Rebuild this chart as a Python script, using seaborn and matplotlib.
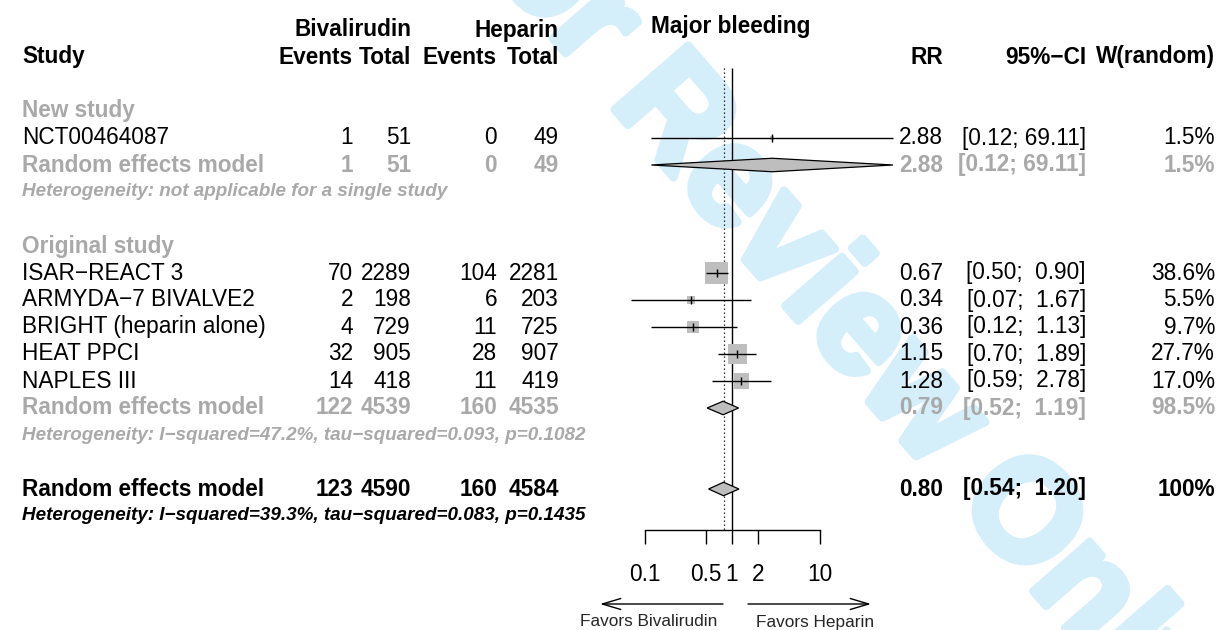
import matplotlib
matplotlib.use("Agg")
import matplotlib.pyplot as plt
import matplotlib.transforms as mtrans
import matplotlib.patheffects as pe
from matplotlib.ticker import NullLocator
import seaborn as sns

# ---------------- data ----------------
groups = ["New study", "Original study"]
study_group = [0, 1, 1, 1, 1, 1]
studies = ["NCT00464087", "ISAR\u2212REACT 3", "ARMYDA\u22127 BIVALVE2",
           "BRIGHT (heparin alone)", "HEAT PPCI", "NAPLES III"]
ev_biv = [1, 70, 2, 4, 32, 14]
n_biv = [51, 2289, 198, 729, 905, 418]
ev_hep = [0, 104, 6, 11, 28, 11]
n_hep = [49, 2281, 203, 725, 907, 419]
rr = [2.88, 0.67, 0.34, 0.36, 1.15, 1.28]
rr_lo = [0.12, 0.50, 0.07, 0.12, 0.70, 0.59]
rr_hi = [69.11, 0.90, 1.67, 1.13, 1.89, 2.78]
weight = [1.5, 38.6, 5.5, 9.7, 27.7, 17.0]

sub_ev_biv = [1, 122]
sub_n_biv = [51, 4539]
sub_ev_hep = [0, 160]
sub_n_hep = [49, 4535]
sub_rr = [2.88, 0.79]
sub_lo = [0.12, 0.52]
sub_hi = [69.11, 1.19]
sub_w = [1.5, 98.5]
sub_het = ["Heterogeneity: not applicable for a single study",
           "Heterogeneity: I\u2212squared=47.2%, tau\u2212squared=0.093, p=0.1082"]

ov_counts = [123, 4590, 160, 4584]
ov_rr, ov_lo, ov_hi = 0.80, 0.54, 1.20
ov_w_label = "100%"
ov_het = "Heterogeneity: I\u2212squared=39.3%, tau\u2212squared=0.083, p=0.1435"

tick_vals = [0.1, 0.5, 1, 2, 10]
tick_labels = ["0.1", "0.5", "1", "2", "10"]
title = "Major bleeding"
label_e, label_c = "Bivalirudin", "Heparin"
label_left, label_right = "Favors Bivalirudin", "Favors Heparin"
watermark = "For Review Only"

# ---------------- style ----------------
sns.set_theme(style="white")
plt.rcParams["font.family"] = ["Liberation Sans", "DejaVu Sans"]
plt.rcParams["axes.unicode_minus"] = True

W, H = 1219, 630
ROW0, ROWH = 57, 27          # pixel y of header row, row height
FS = 16.3
FS_HET = 13.6
GRAY = "#A9A9A9"
BOXGRAY = "#BEBEBE"
WM = "#D4EEFA"

fig = plt.figure(figsize=(W / 100, H / 100), dpi=100)

# watermark (behind everything)
fig.text(836 / W, 1 - 285 / H, watermark, rotation=-49, color=WM,
         fontsize=102, fontweight="bold", ha="center", va="center_baseline",
         rotation_mode="anchor", zorder=-5,
         path_effects=[pe.withStroke(linewidth=6, foreground=WM)])

ax_l, ax_r, ax_bot = 557, 907, 530
ax = fig.add_axes([ax_l / W, (H - ax_bot) / H, (ax_r - ax_l) / W, ax_bot / H])
ax.set_facecolor("none")
ax.set_xscale("log")
ax.set_xlim(0.01, 100)
ylo = (ax_bot - ROW0) / ROWH
yhi = (0 - ROW0) / ROWH
ax.set_ylim(ylo, yhi)

# ---------------- row layout ----------------
study_rows, sub_rows, het_rows, label_rows = [], [], [], []
r = 0
for g in range(len(groups)):
    r += 2
    label_rows.append(r)
    for i, sg in enumerate(study_group):
        if sg == g:
            r += 1
            study_rows.append(r)
    r += 1
    sub_rows.append(r)
    r += 1
    het_rows.append(r)
r += 2
ov_row = r
ov_het_row = r + 1

# ---------------- forest marks ----------------
sns.scatterplot(x=rr, y=study_rows, size=weight, sizes=(0, 274),
                size_norm=(0, max(weight)), marker="s", color=BOXGRAY,
                linewidth=0, legend=False, ax=ax, zorder=2)
ax.hlines(study_rows, rr_lo, rr_hi, color="black", lw=1.0, zorder=3)
ax.plot(rr, study_rows, ls="none", marker="|", ms=5.5, mew=1.0, color="black", zorder=4)

dh = 0.25
for est, lo, hi, row in list(zip(sub_rr, sub_lo, sub_hi, sub_rows)) + [(ov_rr, ov_lo, ov_hi, ov_row)]:
    ax.fill([lo, est, hi, est], [row, row - dh, row, row + dh],
            facecolor=BOXGRAY, edgecolor="black", lw=0.9, zorder=3)

ax.vlines(1, 0.4, ylo, color="black", lw=1.0, zorder=1)
ax.vlines(ov_rr, 0.4, ylo, color="black", lw=0.9, linestyles=(0, (1, 2.2)), zorder=1)

# axis
for s in ["top", "right", "left"]:
    ax.spines[s].set_visible(False)
ax.spines["bottom"].set_bounds(min(tick_vals), max(tick_vals))
ax.spines["bottom"].set_color("black")
ax.spines["bottom"].set_linewidth(1.0)
ax.set_xticks(tick_vals)
ax.set_xticklabels(tick_labels)
ax.xaxis.set_minor_locator(NullLocator())
ax.set_yticks([])
ax.tick_params(axis="x", direction="out", length=10, width=1.0, pad=14,
               labelsize=FS, colors="black", bottom=True)
ax.set_xlabel("")
ax.set_ylabel("")

# ---------------- text columns ----------------
tr = mtrans.blended_transform_factory(fig.transFigure, ax.transData)


def txt(px, row, s, ha="right", **kw):
    kw.setdefault("fontsize", FS)
    kw.setdefault("color", "black")
    ax.text(px / W, row, s, transform=tr, ha=ha, va="center", clip_on=False, **kw)


X_STUDY, X_EB, X_NB, X_EH, X_NH = 22, 353, 411, 497, 559
X_RR, X_CI, X_W = 943, 1086, 1215


def ci(lo, hi):
    return f"[{lo:.2f}; {hi:5.2f}]"


# headers
hdr_row = 0
txt(ax_l + 174, (27 - ROW0) / ROWH, title, ha="center", fontweight="bold")
txt(X_NB, -1, label_e, fontweight="bold")
txt(X_NH, -1, label_c, fontweight="bold")
txt(X_STUDY, hdr_row, "Study", ha="left", fontweight="bold")
for px, s in [(X_EB, "Events"), (X_NB, "Total"), (X_EH, "Events"), (X_NH, "Total"),
              (X_RR, "RR"), (X_CI, "95%\u2212CI"), (X_W, "W(random)")]:
    txt(px, hdr_row, s, fontweight="bold")

# studies
for i, row in enumerate(study_rows):
    txt(X_STUDY, row, studies[i], ha="left")
    txt(X_EB, row, str(ev_biv[i]))
    txt(X_NB, row, str(n_biv[i]))
    txt(X_EH, row, str(ev_hep[i]))
    txt(X_NH, row, str(n_hep[i]))
    txt(X_RR, row, f"{rr[i]:.2f}")
    txt(X_CI, row, ci(rr_lo[i], rr_hi[i]))
    txt(X_W, row, f"{weight[i]:.1f}%")

# subgroups
for g in range(len(groups)):
    txt(X_STUDY, label_rows[g], groups[g], ha="left", fontweight="bold", color=GRAY)
    row = sub_rows[g]
    kw = dict(fontweight="bold", color=GRAY)
    txt(X_STUDY, row, "Random effects model", ha="left", **kw)
    txt(X_EB, row, str(sub_ev_biv[g]), **kw)
    txt(X_NB, row, str(sub_n_biv[g]), **kw)
    txt(X_EH, row, str(sub_ev_hep[g]), **kw)
    txt(X_NH, row, str(sub_n_hep[g]), **kw)
    txt(X_RR, row, f"{sub_rr[g]:.2f}", **kw)
    txt(X_CI, row, ci(sub_lo[g], sub_hi[g]), **kw)
    txt(X_W, row, f"{sub_w[g]:.1f}%", **kw)
    txt(X_STUDY, het_rows[g], sub_het[g], ha="left", fontweight="bold",
        fontstyle="italic", color=GRAY, fontsize=FS_HET)

# overall
kw = dict(fontweight="bold")
txt(X_STUDY, ov_row, "Random effects model", ha="left", **kw)
for px, v in zip([X_EB, X_NB, X_EH, X_NH], ov_counts):
    txt(px, ov_row, str(v), **kw)
txt(X_RR, ov_row, f"{ov_rr:.2f}", **kw)
txt(X_CI, ov_row, ci(ov_lo, ov_hi), **kw)
txt(X_W, ov_row, ov_w_label, **kw)
txt(X_STUDY, ov_het_row, ov_het, ha="left", fontweight="bold", fontstyle="italic",
    fontsize=FS_HET)

# favours arrows and labels (figure-pixel layout)
pix = mtrans.Affine2D().scale(1 / W, 1 / H) + fig.transFigure
arrow_y = H - 604
ax.annotate("", xy=(600, arrow_y), xytext=(723, arrow_y), xycoords=pix, textcoords=pix,
            arrowprops=dict(arrowstyle="->,head_length=1.1,head_width=0.33", lw=1.0,
                            color="black", shrinkA=0, shrinkB=0), annotation_clip=False)
ax.annotate("", xy=(871, arrow_y), xytext=(748, arrow_y), xycoords=pix, textcoords=pix,
            arrowprops=dict(arrowstyle="->,head_length=1.1,head_width=0.33", lw=1.0,
                            color="black", shrinkA=0, shrinkB=0), annotation_clip=False)
fig.text(649 / W, 1 - 622 / H, label_left, ha="center", va="center", fontsize=12.4)
fig.text(815 / W, 1 - 622 / H, label_right, ha="center", va="center", fontsize=12.4)

fig.savefig("out.png", dpi=100)
